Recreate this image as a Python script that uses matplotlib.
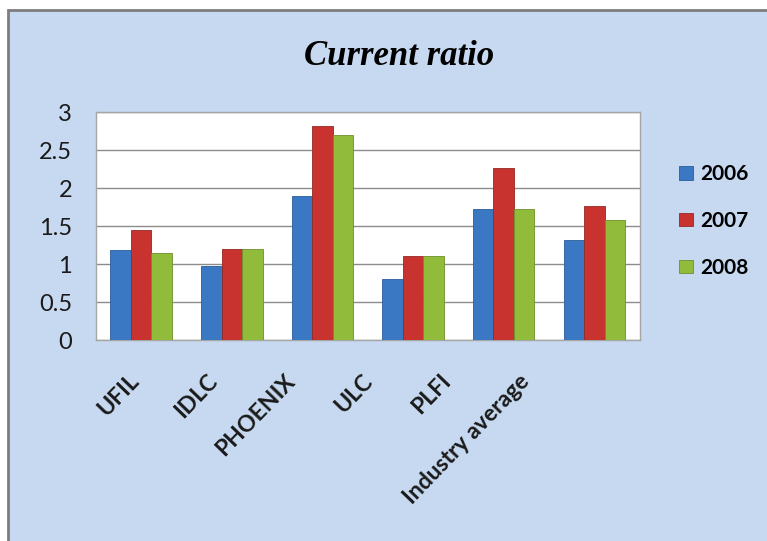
import matplotlib
import numpy as np

matplotlib.use("Agg")
import matplotlib.pyplot as plt
from matplotlib.patches import Rectangle

companies = ["UFIL", "IDLC", "PHOENIX", "ULC", "PLFI", "Industry average"]
years = ["2006", "2007", "2008"]
ratio_2006 = [1.19, 0.98, 1.89, 0.80, 1.73, 1.31]
ratio_2007 = [1.45, 1.20, 2.82, 1.11, 2.27, 1.77]
ratio_2008 = [1.15, 1.20, 2.70, 1.11, 1.73, 1.58]
y_ticks = [0, 0.5, 1, 1.5, 2, 2.5, 3]
y_tick_labels = ["0", "0.5", "1", "1.5", "2", "2.5", "3"]

colors = ["#3a78c4", "#c8322f", "#90bb3b"]
edge_colors = ["#2a5d99", "#952824", "#6f8f2a"]
background = "#c6d9f0"

fig = plt.figure(figsize=(7.67, 5.41), dpi=100, facecolor="white")
# chart frame: starts a little inside the top-left corner, runs off the other edges
fig.patches.append(Rectangle((8 / 767, -0.1), 1.2, 1.1 - 10 / 541,
                             transform=fig.transFigure, facecolor=background,
                             edgecolor="#7d7d7d", linewidth=2, zorder=-1))

ax = fig.add_axes([0.125, 0.3715, 0.709, 0.4214])
ax.set_facecolor("white")

x = np.arange(len(companies))
width = 0.226
series = [ratio_2006, ratio_2007, ratio_2008]
for i, (year, values) in enumerate(zip(years, series)):
    ax.bar(x + (i - 1) * width, values, width, color=colors[i],
           edgecolor=edge_colors[i], linewidth=0.6, label=year, zorder=3)

ax.set_xlim(-0.5, len(companies) - 0.5)
ax.set_ylim(0, 3)
ax.set_yticks(y_ticks)
ax.set_yticklabels(y_tick_labels, fontsize=17, family="Lato", color="#1a1a1a")
ax.yaxis.grid(True, color="#8c8c8c", linewidth=1.0, zorder=0)
ax.tick_params(axis="y", length=0, pad=17)
ax.tick_params(axis="x", length=0, pad=27)

# Excel packs the rotated labels a bit tighter than the categories
ax.set_xticks(x * 0.86 - 0.06)
ax.set_xticklabels(companies, rotation=46, ha="right", va="center",
                   rotation_mode="anchor", fontsize=16.5, fontweight="bold",
                   family="Lato", color="#1a1a1a")

for side in ["top", "right", "left", "bottom"]:
    ax.spines[side].set_color("#a6a6a6")
    ax.spines[side].set_linewidth(1.0)

fig.text(0.520, 0.880, "Current ratio", ha="center", va="baseline",
         fontsize=25, style="italic", fontweight="bold",
         family="Liberation Serif")

fig.legend(loc="center left", bbox_to_anchor=(0.885, 0.5915), frameon=False,
           prop={"family": "Lato", "weight": "bold", "size": 15},
           handlelength=0.7, handleheight=0.6, handletextpad=0.35,
           labelspacing=1.28, borderpad=0, borderaxespad=0)

fig.savefig("out.png", dpi=100, facecolor="white")
